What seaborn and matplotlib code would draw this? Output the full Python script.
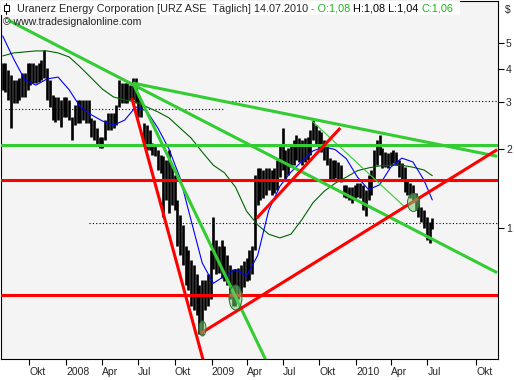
import numpy as np
import pandas as pd
import seaborn as sns
import matplotlib.pyplot as plt
from matplotlib.path import Path
from matplotlib.patches import Rectangle
from matplotlib.ticker import FixedLocator, FixedFormatter, NullLocator

# Trading-day axis: history is spaced by business days, the empty future by calendar days
AXIS_START = "2007-10-01"
LAST_DAY = pd.Timestamp("2010-07-14")
VIEW_START = "2007-07-20"
VIEW_END = "2010-11-09"

# weekly price ranges, one bar per week
week_dates = pd.date_range("2007-07-25", periods=156, freq="W-WED")
week_high = [
    4.20, 4.20, 3.96, 3.79, 3.63, 3.63, 3.69, 3.86, 3.86, 4.20,
    4.20, 4.20, 4.13, 4.20, 4.32, 4.71, 4.03, 3.63, 3.18, 3.13,
    3.13, 3.05, 3.13, 3.13, 3.05, 2.63, 2.92, 3.05, 3.05, 3.05,
    3.05, 3.05, 2.61, 2.56, 2.39, 2.21, 2.21, 2.56, 2.72, 2.72,
    2.72, 2.92, 3.63, 3.53, 3.53, 3.53, 3.47, 3.69, 3.69, 3.13,
    3.05, 2.49, 2.45, 2.35, 2.10, 2.06, 1.98, 1.89, 1.87, 1.81,
    1.98, 1.73, 1.59, 1.28, 1.12, 1.03, 0.86, 0.83, 0.76, 0.73,
    0.67, 0.61, 0.64, 0.64, 0.67, 0.83, 1.10, 0.90, 0.86, 0.90,
    0.86, 0.79, 0.73, 0.70, 0.70, 0.71, 0.73, 0.75, 0.77, 0.83,
    0.86, 1.59, 1.69, 1.69, 1.66, 1.69, 1.69, 1.66, 1.69, 1.81,
    2.06, 2.39, 1.98, 2.01, 2.06, 2.15, 2.25, 2.19, 2.15, 2.19,
    2.21, 2.35, 2.56, 2.45, 2.35, 2.31, 2.15, 2.06, 1.84, 1.81,
    1.81, 1.78, 1.73, 1.46, 1.46, 1.43, 1.43, 1.46, 1.48, 1.48,
    1.46, 1.40, 1.59, 1.66, 1.98, 2.15, 2.25, 2.01, 1.94, 1.92,
    1.94, 1.98, 1.94, 1.81, 1.76, 1.70, 1.52, 1.48, 1.46, 1.36,
    1.30, 1.20, 1.17, 1.10, 1.06, 1.09]
week_low = [
    3.33, 3.27, 3.05, 2.39, 2.97, 2.97, 3.05, 3.13, 3.13, 3.33,
    3.47, 3.53, 3.53, 3.56, 3.63, 3.69, 3.05, 2.87, 2.56, 2.52,
    2.56, 2.41, 2.63, 2.63, 2.56, 2.15, 2.45, 2.49, 2.49, 2.56,
    2.49, 2.49, 2.21, 2.15, 2.06, 2.01, 2.01, 2.15, 2.35, 2.35,
    2.39, 2.45, 2.87, 2.97, 2.97, 2.97, 3.05, 3.05, 2.97, 2.63,
    2.63, 2.06, 1.98, 1.98, 1.89, 1.87, 1.66, 1.62, 1.10, 1.28,
    1.14, 1.22, 1.17, 0.86, 0.79, 0.73, 0.61, 0.585, 0.51, 0.49,
    0.47, 0.40, 0.395, 0.49, 0.51, 0.54, 0.70, 0.67, 0.68, 0.65,
    0.63, 0.61, 0.54, 0.51, 0.51, 0.54, 0.57, 0.60, 0.63, 0.64,
    0.67, 0.83, 1.22, 1.28, 1.30, 1.34, 1.40, 1.34, 1.36, 1.40,
    1.56, 1.66, 1.52, 1.59, 1.70, 1.73, 1.81, 1.78, 1.73, 1.78,
    1.81, 1.89, 2.15, 2.06, 1.98, 1.94, 1.81, 1.73, 1.52, 1.52,
    1.55, 1.52, 1.50, 1.31, 1.30, 1.28, 1.25, 1.28, 1.31, 1.30,
    1.17, 1.11, 1.28, 1.34, 1.52, 1.73, 1.89, 1.69, 1.70, 1.69,
    1.73, 1.76, 1.73, 1.56, 1.52, 1.37, 1.34, 1.30, 1.28, 1.17,
    1.10, 1.06, 1.00, 0.90, 0.88, 0.99]

# moving averages sampled every 4th week (plus the last one)
ma_weeks = list(range(0, 156, 4)) + [155]
ma_short = [5.32, 4.35, 3.63, 3.47, 3.66, 3.72, 3.33, 2.87, 2.68, 2.54,
            2.45, 2.56, 2.87, 2.77, 2.39, 1.99, 1.55, 1.07, 0.74, 0.62,
            0.66, 0.70, 0.66, 0.79, 1.17, 1.44, 1.63, 1.79, 1.96, 2.03,
            1.98, 1.83, 1.56, 1.40, 1.46, 1.70, 1.84, 1.78, 1.52, 1.28]
ma_long = [4.47, 4.59, 4.63, 4.67, 4.67, 4.59, 4.43, 4.06, 3.69, 3.35,
           3.13, 3.05, 3.00, 2.87, 2.75, 2.61, 2.39, 2.19, 1.94, 1.73,
           1.62, 1.43, 1.16, 1.03, 0.95, 0.92, 0.95, 1.08, 1.25, 1.38,
           1.48, 1.56, 1.65, 1.69, 1.72, 1.73, 1.73, 1.70, 1.66, 1.58]

# drawn trend lines: (start date, start price, end date, end price)
green_trends = [("2007-08-08", 6.10, "2010-11-08", 0.68),
                ("2008-06-18", 3.53, "2010-11-08", 1.87),
                ("2008-06-18", 3.53, "2009-06-15", 0.265)]
thin_trends = [("2009-09-14", 2.54, "2010-05-06", 1.20)]
red_trends = [("2008-06-16", 3.10, "2008-12-25", 0.27),
              ("2008-12-04", 0.40, "2010-11-08", 1.98),
              ("2009-04-27", 1.09, "2009-11-24", 2.39)]
green_levels = [2.07]
red_levels = [1.52, 0.56]
dotted_levels = [(2.81, "2007-07-31", "2009-02-05"),
                 (3.02, "2009-02-05", VIEW_END),
                 (1.05, "2008-02-28", VIEW_END)]

# highlighted lows
mark_dates = ["2008-12-10", "2009-03-04", "2010-05-26"]
mark_prices = [0.42, 0.55, 1.26]
mark_shapes = [(7, 15), (13, 25), (12, 18)]  # width, height in px

tick_dates = ["2007-10-01", "2008-01-02", "2008-04-01", "2008-07-01", "2008-10-01",
              "2009-01-02", "2009-04-01", "2009-07-01", "2009-10-01", "2010-01-04",
              "2010-04-01", "2010-07-01", "2010-10-01"]
tick_labels = ["Okt", "2008", "Apr", "Jul", "Okt", "2009", "Apr", "Jul", "Okt",
               "2010", "Apr", "Jul", "Okt"]
price_ticks = [1, 2, 3, 4, 5]


def to_pos(day):
    day = pd.Timestamp(day)
    if day <= LAST_DAY:
        return int(np.busday_count(AXIS_START, day.strftime("%Y-%m-%d")))
    last = int(np.busday_count(AXIS_START, LAST_DAY.strftime("%Y-%m-%d")))
    return last + (day - LAST_DAY).days


sns.set_theme(style="white")
plt.rcParams["font.family"] = ["Liberation Sans", "DejaVu Sans"]

W, H = 514, 380
GREEN = "#33cc33"
RED = "#ff0000"

fig = plt.figure(figsize=(W / 100, H / 100), dpi=100, facecolor="white")
ax = fig.add_axes([1 / W, 21 / H, 496.7 / W, 358 / H])
ax.set_facecolor("#f4f4f4")
ax.set_yscale("log")
ax.set_xlim(to_pos(VIEW_START), to_pos(VIEW_END))
ax.set_ylim(0.3212, 7.206)

# price bars
xw = [to_pos(d) for d in week_dates]
ax.vlines(xw, week_low, week_high, color="black", lw=1.9, zorder=2)

# moving averages
ma_df = pd.DataFrame({"x": [xw[i] for i in ma_weeks], "short": ma_short, "long": ma_long})
sns.lineplot(data=ma_df, x="x", y="long", ax=ax, color="#006400", lw=0.8, zorder=3)
sns.lineplot(data=ma_df, x="x", y="short", ax=ax, color="#0000ff", lw=0.8, zorder=3)
ax.set_xlabel("")
ax.set_ylabel("")

# horizontal levels
for price, start, end in dotted_levels:
    ax.hlines(price, to_pos(start), to_pos(end), colors="black", lw=0.8,
              linestyles=(0, (1, 2)), zorder=1)
for p in green_levels:
    ax.axhline(p, color=GREEN, lw=2.2, zorder=4)
for p in red_levels:
    ax.axhline(p, color=RED, lw=2.2, zorder=4)

# trend lines
for d1, p1, d2, p2 in green_trends:
    ax.plot([to_pos(d1), to_pos(d2)], [p1, p2], color=GREEN, lw=2.2,
            solid_capstyle="butt", zorder=4)
for d1, p1, d2, p2 in thin_trends:
    ax.plot([to_pos(d1), to_pos(d2)], [p1, p2], color=GREEN, lw=0.8, zorder=4)
for d1, p1, d2, p2 in red_trends:
    ax.plot([to_pos(d1), to_pos(d2)], [p1, p2], color=RED, lw=2.2,
            solid_capstyle="butt", zorder=4)

# green ellipses around the lows
circle = Path.unit_circle()
for d, p, (w, h) in zip(mark_dates, mark_prices, mark_shapes):
    shape = Path(circle.vertices * np.array([w / h, 1.0]), circle.codes)
    ax.plot([to_pos(d)], [p], marker=shape, ms=h * 0.72, ls="none",
            mfc=(0.45, 0.8, 0.45, 0.55), mec="#2d6e2d", mew=0.7, zorder=5)

# axes, ticks
ax.set_xticks([to_pos(d) for d in tick_dates])
ax.set_xticklabels(tick_labels, ha="left")
ax.tick_params(axis="x", direction="out", length=4, width=0.8, color="black",
               labelsize=7.5, pad=1.5, bottom=True)
ax.yaxis.tick_right()
ax.yaxis.set_major_locator(FixedLocator(price_ticks))
ax.yaxis.set_major_formatter(FixedFormatter([str(v) for v in price_ticks]))
ax.yaxis.set_minor_locator(NullLocator())
ax.tick_params(axis="y", which="major", direction="out", length=4, width=0.8,
               color="black", right=True, left=False, labelsize=7.5, pad=2)
ax.grid(False)
for s in ax.spines.values():
    s.set_visible(True)
    s.set_color("black")
    s.set_linewidth(0.8)


def ax_x(px):
    return (px - 1) / 496.7


def ax_y(py):
    return (359 - py) / 358


# header
ax.add_patch(Rectangle((0, ax_y(15)), ax_x(460), ax_y(1) - ax_y(15), transform=ax.transAxes,
                       facecolor="white", edgecolor="none", zorder=10, clip_on=False))
ax.plot([ax_x(6), ax_x(6)], [ax_y(3), ax_y(14)], transform=ax.transAxes, color="black",
        lw=0.8, zorder=11, clip_on=False)
ax.add_patch(Rectangle((ax_x(3.5), ax_y(10.5)), ax_x(8.5) - ax_x(3.5), ax_y(5.5) - ax_y(10.5),
                       transform=ax.transAxes, facecolor="white", edgecolor="black", lw=0.7,
                       zorder=12, clip_on=False))

title_green = "#1fb41f"
t = ax.text(ax_x(17), ax_y(13.5), "Uranerz Energy Corporation [URZ ASE  Täglich] 14.07.2010 ",
            transform=ax.transAxes, fontsize=7.85, va="bottom", ha="left", zorder=11)
for piece, col in [("- O:1,08 ", title_green), ("H:1,08 L:1,04 ", "black"),
                   ("C:1,06", title_green)]:
    t = ax.annotate(piece, xy=(1, 0), xycoords=t, va="bottom", ha="left", color=col,
                    fontsize=7.85, zorder=11, annotation_clip=False)
ax.text(ax_x(3), ax_y(22), "© www.tradesignalonline.com", transform=ax.transAxes,
        fontsize=7.6, va="center", ha="left", zorder=11)
fig.text(505 / W, 1 - 10 / H, "$", fontsize=7.5, va="center", ha="left")

fig.savefig("out.png", dpi=100)
